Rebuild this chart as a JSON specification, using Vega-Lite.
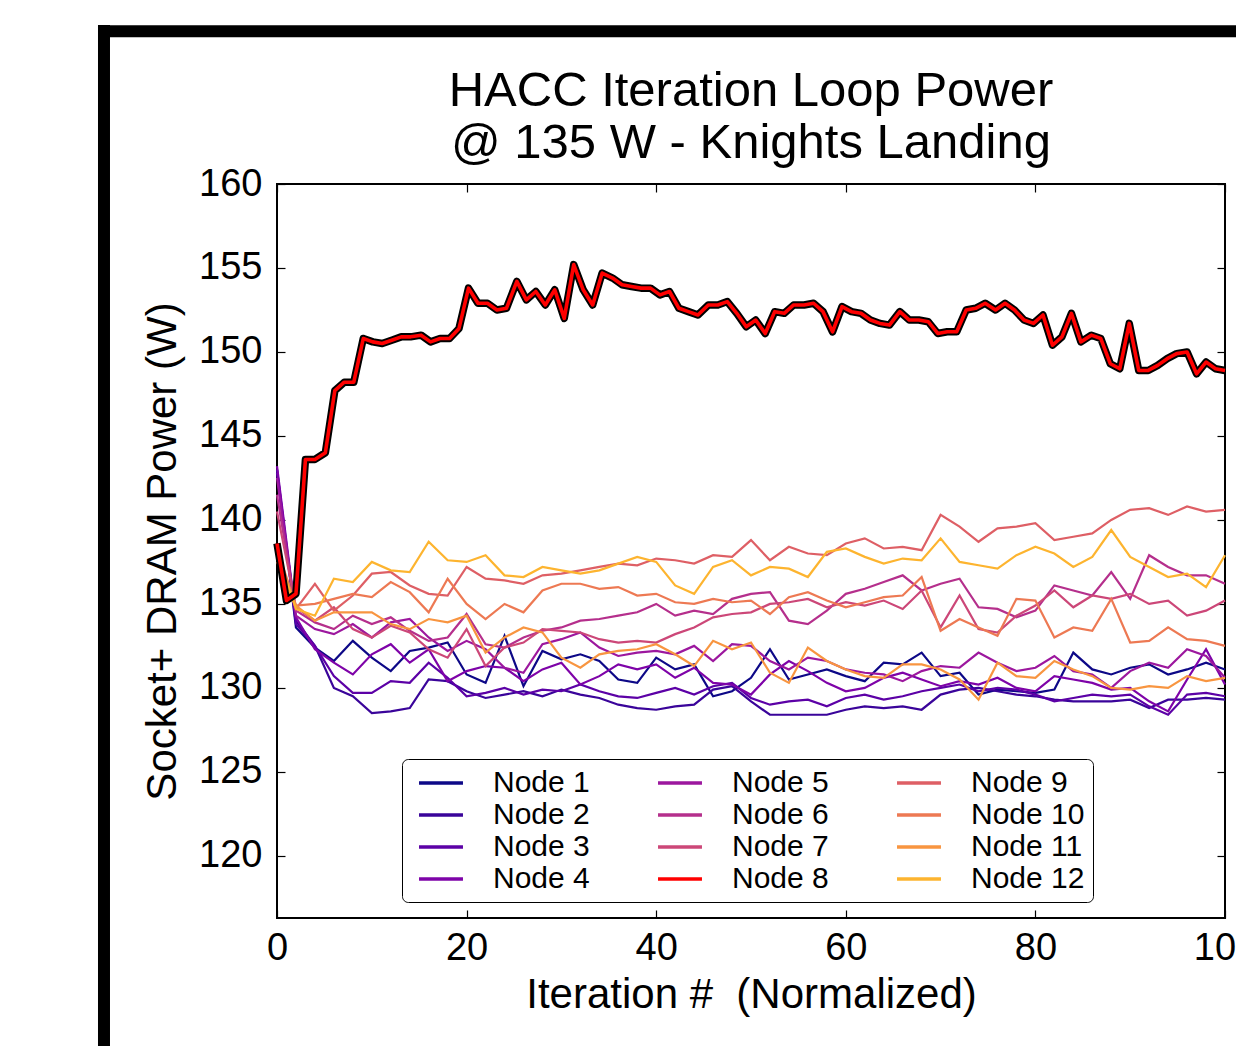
{"$schema":"https://vega.github.io/schema/vega-lite/v6.json","width":948,"height":734,"autosize":{"type":"none"},"padding":{"left":277,"top":184,"right":11,"bottom":128},"background":"white",
"title":{"text":["HACC Iteration Loop Power","@ 135 W - Knights Landing"],"fontSize":49,"font":"Liberation Sans","fontWeight":"normal","color":"black","lineHeight":52,"baseline":"bottom","offset":-198,"anchor":"middle","frame":"group"},
"data":{"values":[
{"x":0,"y":143.0,"k":1},{"x":2,"y":133.6,"k":1},{"x":4,"y":132.4,"k":1},{"x":6,"y":131.6,"k":1},{"x":8,"y":132.8,"k":1},{"x":10,"y":131.8,"k":1},{"x":12,"y":131.0,"k":1},{"x":14,"y":132.2,"k":1},{"x":16,"y":132.4,"k":1},{"x":18,"y":132.7,"k":1},{"x":20,"y":130.8,"k":1},{"x":22,"y":130.3,"k":1},{"x":24,"y":133.1,"k":1},{"x":26,"y":130.1,"k":1},{"x":28,"y":132.2,"k":1},{"x":30,"y":131.7,"k":1},{"x":32,"y":132.0,"k":1},{"x":34,"y":131.6,"k":1},{"x":36,"y":130.5,"k":1},{"x":38,"y":130.3,"k":1},{"x":40,"y":131.8,"k":1},{"x":42,"y":131.1,"k":1},{"x":44,"y":131.4,"k":1},{"x":46,"y":129.5,"k":1},{"x":48,"y":129.8,"k":1},{"x":50,"y":130.6,"k":1},{"x":52,"y":132.3,"k":1},{"x":54,"y":130.5,"k":1},{"x":56,"y":130.8,"k":1},{"x":58,"y":131.1,"k":1},{"x":60,"y":130.7,"k":1},{"x":62,"y":130.4,"k":1},{"x":64,"y":131.5,"k":1},{"x":66,"y":131.4,"k":1},{"x":68,"y":132.1,"k":1},{"x":70,"y":130.7,"k":1},{"x":72,"y":130.9,"k":1},{"x":74,"y":129.6,"k":1},{"x":76,"y":129.9,"k":1},{"x":78,"y":129.8,"k":1},{"x":80,"y":129.7,"k":1},{"x":82,"y":129.9,"k":1},{"x":84,"y":132.1,"k":1},{"x":86,"y":131.1,"k":1},{"x":88,"y":130.8,"k":1},{"x":90,"y":131.2,"k":1},{"x":92,"y":131.4,"k":1},{"x":94,"y":130.8,"k":1},{"x":96,"y":131.1,"k":1},{"x":98,"y":131.5,"k":1},{"x":100,"y":131.1,"k":1},
{"x":0,"y":143.0,"k":2},{"x":2,"y":134.0,"k":2},{"x":4,"y":132.5,"k":2},{"x":6,"y":130.0,"k":2},{"x":8,"y":129.5,"k":2},{"x":10,"y":128.5,"k":2},{"x":12,"y":128.6,"k":2},{"x":14,"y":128.8,"k":2},{"x":16,"y":130.5,"k":2},{"x":18,"y":130.4,"k":2},{"x":20,"y":129.8,"k":2},{"x":22,"y":129.4,"k":2},{"x":24,"y":129.6,"k":2},{"x":26,"y":129.8,"k":2},{"x":28,"y":129.5,"k":2},{"x":30,"y":129.9,"k":2},{"x":32,"y":129.6,"k":2},{"x":34,"y":129.4,"k":2},{"x":36,"y":129.0,"k":2},{"x":38,"y":128.8,"k":2},{"x":40,"y":128.7,"k":2},{"x":42,"y":128.9,"k":2},{"x":44,"y":129.0,"k":2},{"x":46,"y":129.9,"k":2},{"x":48,"y":130.1,"k":2},{"x":50,"y":129.2,"k":2},{"x":52,"y":128.4,"k":2},{"x":54,"y":128.4,"k":2},{"x":56,"y":128.4,"k":2},{"x":58,"y":128.4,"k":2},{"x":60,"y":128.7,"k":2},{"x":62,"y":128.9,"k":2},{"x":64,"y":128.8,"k":2},{"x":66,"y":128.9,"k":2},{"x":68,"y":128.7,"k":2},{"x":70,"y":129.6,"k":2},{"x":72,"y":129.9,"k":2},{"x":74,"y":130.0,"k":2},{"x":76,"y":129.8,"k":2},{"x":78,"y":129.6,"k":2},{"x":80,"y":129.5,"k":2},{"x":82,"y":129.3,"k":2},{"x":84,"y":129.2,"k":2},{"x":86,"y":129.2,"k":2},{"x":88,"y":129.2,"k":2},{"x":90,"y":129.3,"k":2},{"x":92,"y":128.8,"k":2},{"x":94,"y":129.3,"k":2},{"x":96,"y":129.3,"k":2},{"x":98,"y":129.4,"k":2},{"x":100,"y":129.3,"k":2},
{"x":0,"y":142.8,"k":3},{"x":2,"y":133.8,"k":3},{"x":4,"y":132.5,"k":3},{"x":6,"y":130.7,"k":3},{"x":8,"y":129.7,"k":3},{"x":10,"y":129.7,"k":3},{"x":12,"y":130.4,"k":3},{"x":14,"y":130.3,"k":3},{"x":16,"y":131.5,"k":3},{"x":18,"y":130.6,"k":3},{"x":20,"y":129.5,"k":3},{"x":22,"y":129.7,"k":3},{"x":24,"y":130.0,"k":3},{"x":26,"y":129.6,"k":3},{"x":28,"y":129.9,"k":3},{"x":30,"y":129.8,"k":3},{"x":32,"y":130.2,"k":3},{"x":34,"y":129.8,"k":3},{"x":36,"y":129.5,"k":3},{"x":38,"y":129.4,"k":3},{"x":40,"y":129.7,"k":3},{"x":42,"y":130.0,"k":3},{"x":44,"y":129.6,"k":3},{"x":46,"y":130.1,"k":3},{"x":48,"y":130.3,"k":3},{"x":50,"y":129.4,"k":3},{"x":52,"y":129.0,"k":3},{"x":54,"y":129.2,"k":3},{"x":56,"y":129.3,"k":3},{"x":58,"y":128.9,"k":3},{"x":60,"y":129.4,"k":3},{"x":62,"y":129.6,"k":3},{"x":64,"y":129.3,"k":3},{"x":66,"y":129.5,"k":3},{"x":68,"y":129.8,"k":3},{"x":70,"y":130.0,"k":3},{"x":72,"y":130.2,"k":3},{"x":74,"y":129.8,"k":3},{"x":76,"y":130.0,"k":3},{"x":78,"y":129.9,"k":3},{"x":80,"y":129.6,"k":3},{"x":82,"y":129.2,"k":3},{"x":84,"y":129.4,"k":3},{"x":86,"y":129.6,"k":3},{"x":88,"y":129.5,"k":3},{"x":90,"y":129.6,"k":3},{"x":92,"y":128.9,"k":3},{"x":94,"y":128.4,"k":3},{"x":96,"y":129.6,"k":3},{"x":98,"y":129.7,"k":3},{"x":100,"y":129.5,"k":3},
{"x":0,"y":143.2,"k":4},{"x":2,"y":134.2,"k":4},{"x":4,"y":132.3,"k":4},{"x":6,"y":131.5,"k":4},{"x":8,"y":130.8,"k":4},{"x":10,"y":132.0,"k":4},{"x":12,"y":132.6,"k":4},{"x":14,"y":131.5,"k":4},{"x":16,"y":132.3,"k":4},{"x":18,"y":130.4,"k":4},{"x":20,"y":131.0,"k":4},{"x":22,"y":131.3,"k":4},{"x":24,"y":131.2,"k":4},{"x":26,"y":130.4,"k":4},{"x":28,"y":131.1,"k":4},{"x":30,"y":131.5,"k":4},{"x":32,"y":130.2,"k":4},{"x":34,"y":130.7,"k":4},{"x":36,"y":131.4,"k":4},{"x":38,"y":131.1,"k":4},{"x":40,"y":131.4,"k":4},{"x":42,"y":130.6,"k":4},{"x":44,"y":131.2,"k":4},{"x":46,"y":130.3,"k":4},{"x":48,"y":130.2,"k":4},{"x":50,"y":129.6,"k":4},{"x":52,"y":130.8,"k":4},{"x":54,"y":131.6,"k":4},{"x":56,"y":131.0,"k":4},{"x":58,"y":130.3,"k":4},{"x":60,"y":129.8,"k":4},{"x":62,"y":130.0,"k":4},{"x":64,"y":130.6,"k":4},{"x":66,"y":130.9,"k":4},{"x":68,"y":130.5,"k":4},{"x":70,"y":130.1,"k":4},{"x":72,"y":130.4,"k":4},{"x":74,"y":130.2,"k":4},{"x":76,"y":130.6,"k":4},{"x":78,"y":130.0,"k":4},{"x":80,"y":129.8,"k":4},{"x":82,"y":130.7,"k":4},{"x":84,"y":130.5,"k":4},{"x":86,"y":130.3,"k":4},{"x":88,"y":129.9,"k":4},{"x":90,"y":130.0,"k":4},{"x":92,"y":129.2,"k":4},{"x":94,"y":128.6,"k":4},{"x":96,"y":130.5,"k":4},{"x":98,"y":132.3,"k":4},{"x":100,"y":130.2,"k":4},
{"x":0,"y":142.5,"k":5},{"x":2,"y":134.3,"k":5},{"x":4,"y":133.5,"k":5},{"x":6,"y":133.2,"k":5},{"x":8,"y":133.8,"k":5},{"x":10,"y":133.0,"k":5},{"x":12,"y":133.9,"k":5},{"x":14,"y":134.1,"k":5},{"x":16,"y":133.0,"k":5},{"x":18,"y":132.2,"k":5},{"x":20,"y":132.8,"k":5},{"x":22,"y":132.3,"k":5},{"x":24,"y":131.2,"k":5},{"x":26,"y":130.9,"k":5},{"x":28,"y":132.6,"k":5},{"x":30,"y":132.9,"k":5},{"x":32,"y":133.3,"k":5},{"x":34,"y":132.4,"k":5},{"x":36,"y":131.9,"k":5},{"x":38,"y":132.1,"k":5},{"x":40,"y":132.2,"k":5},{"x":42,"y":132.0,"k":5},{"x":44,"y":132.5,"k":5},{"x":46,"y":131.6,"k":5},{"x":48,"y":132.6,"k":5},{"x":50,"y":132.5,"k":5},{"x":52,"y":131.6,"k":5},{"x":54,"y":131.1,"k":5},{"x":56,"y":131.8,"k":5},{"x":58,"y":131.6,"k":5},{"x":60,"y":131.1,"k":5},{"x":62,"y":130.9,"k":5},{"x":64,"y":130.8,"k":5},{"x":66,"y":130.4,"k":5},{"x":68,"y":131.0,"k":5},{"x":70,"y":131.3,"k":5},{"x":72,"y":131.2,"k":5},{"x":74,"y":132.1,"k":5},{"x":76,"y":131.5,"k":5},{"x":78,"y":131.0,"k":5},{"x":80,"y":131.2,"k":5},{"x":82,"y":131.9,"k":5},{"x":84,"y":131.0,"k":5},{"x":86,"y":130.8,"k":5},{"x":88,"y":130.0,"k":5},{"x":90,"y":131.0,"k":5},{"x":92,"y":131.5,"k":5},{"x":94,"y":131.2,"k":5},{"x":96,"y":132.3,"k":5},{"x":98,"y":131.9,"k":5},{"x":100,"y":130.6,"k":5},
{"x":0,"y":141.5,"k":6},{"x":2,"y":134.6,"k":6},{"x":4,"y":133.9,"k":6},{"x":6,"y":133.5,"k":6},{"x":8,"y":134.3,"k":6},{"x":10,"y":133.8,"k":6},{"x":12,"y":134.2,"k":6},{"x":14,"y":133.4,"k":6},{"x":16,"y":132.8,"k":6},{"x":18,"y":133.0,"k":6},{"x":20,"y":134.4,"k":6},{"x":22,"y":132.6,"k":6},{"x":24,"y":132.4,"k":6},{"x":26,"y":133.0,"k":6},{"x":28,"y":133.4,"k":6},{"x":30,"y":133.6,"k":6},{"x":32,"y":134.0,"k":6},{"x":34,"y":134.1,"k":6},{"x":36,"y":134.3,"k":6},{"x":38,"y":134.5,"k":6},{"x":40,"y":135.0,"k":6},{"x":42,"y":134.3,"k":6},{"x":44,"y":134.6,"k":6},{"x":46,"y":134.4,"k":6},{"x":48,"y":135.3,"k":6},{"x":50,"y":135.6,"k":6},{"x":52,"y":135.7,"k":6},{"x":54,"y":134.0,"k":6},{"x":56,"y":133.8,"k":6},{"x":58,"y":134.6,"k":6},{"x":60,"y":135.6,"k":6},{"x":62,"y":135.9,"k":6},{"x":64,"y":136.3,"k":6},{"x":66,"y":136.7,"k":6},{"x":68,"y":135.8,"k":6},{"x":70,"y":136.2,"k":6},{"x":72,"y":136.5,"k":6},{"x":74,"y":134.8,"k":6},{"x":76,"y":134.7,"k":6},{"x":78,"y":134.2,"k":6},{"x":80,"y":134.6,"k":6},{"x":82,"y":136.1,"k":6},{"x":84,"y":135.8,"k":6},{"x":86,"y":135.5,"k":6},{"x":88,"y":136.9,"k":6},{"x":90,"y":135.3,"k":6},{"x":92,"y":137.9,"k":6},{"x":94,"y":137.2,"k":6},{"x":96,"y":136.7,"k":6},{"x":98,"y":136.7,"k":6},{"x":100,"y":136.2,"k":6},
{"x":0,"y":140.5,"k":7},{"x":2,"y":134.8,"k":7},{"x":4,"y":134.0,"k":7},{"x":6,"y":134.8,"k":7},{"x":8,"y":133.5,"k":7},{"x":10,"y":133.0,"k":7},{"x":12,"y":133.7,"k":7},{"x":14,"y":133.3,"k":7},{"x":16,"y":132.3,"k":7},{"x":18,"y":131.8,"k":7},{"x":20,"y":133.5,"k":7},{"x":22,"y":131.3,"k":7},{"x":24,"y":132.4,"k":7},{"x":26,"y":132.7,"k":7},{"x":28,"y":133.5,"k":7},{"x":30,"y":133.4,"k":7},{"x":32,"y":133.3,"k":7},{"x":34,"y":132.9,"k":7},{"x":36,"y":132.7,"k":7},{"x":38,"y":132.8,"k":7},{"x":40,"y":132.7,"k":7},{"x":42,"y":133.2,"k":7},{"x":44,"y":133.6,"k":7},{"x":46,"y":134.2,"k":7},{"x":48,"y":134.4,"k":7},{"x":50,"y":134.5,"k":7},{"x":52,"y":135.0,"k":7},{"x":54,"y":135.1,"k":7},{"x":56,"y":135.3,"k":7},{"x":58,"y":134.8,"k":7},{"x":60,"y":135.1,"k":7},{"x":62,"y":134.9,"k":7},{"x":64,"y":135.2,"k":7},{"x":66,"y":134.7,"k":7},{"x":68,"y":135.8,"k":7},{"x":70,"y":133.6,"k":7},{"x":72,"y":135.5,"k":7},{"x":74,"y":133.5,"k":7},{"x":76,"y":133.3,"k":7},{"x":78,"y":134.3,"k":7},{"x":80,"y":134.9,"k":7},{"x":82,"y":135.8,"k":7},{"x":84,"y":134.8,"k":7},{"x":86,"y":135.5,"k":7},{"x":88,"y":135.3,"k":7},{"x":90,"y":135.6,"k":7},{"x":92,"y":135.0,"k":7},{"x":94,"y":135.2,"k":7},{"x":96,"y":134.3,"k":7},{"x":98,"y":134.6,"k":7},{"x":100,"y":135.2,"k":7},
{"x":0,"y":138.6,"k":8},{"x":1,"y":135.2,"k":8},{"x":2,"y":135.6,"k":8},{"x":3,"y":143.6,"k":8},{"x":4,"y":143.6,"k":8},{"x":5.1,"y":144.0,"k":8},{"x":6.1,"y":147.7,"k":8},{"x":7.1,"y":148.2,"k":8},{"x":8.1,"y":148.2,"k":8},{"x":9.1,"y":150.8,"k":8},{"x":10.1,"y":150.6,"k":8},{"x":11.1,"y":150.5,"k":8},{"x":12.1,"y":150.7,"k":8},{"x":13.1,"y":150.9,"k":8},{"x":14.1,"y":150.9,"k":8},{"x":15.2,"y":151.0,"k":8},{"x":16.2,"y":150.6,"k":8},{"x":17.2,"y":150.8,"k":8},{"x":18.2,"y":150.8,"k":8},{"x":19.2,"y":151.4,"k":8},{"x":20.2,"y":153.8,"k":8},{"x":21.2,"y":152.9,"k":8},{"x":22.2,"y":152.9,"k":8},{"x":23.2,"y":152.5,"k":8},{"x":24.2,"y":152.6,"k":8},{"x":25.3,"y":154.2,"k":8},{"x":26.3,"y":153.1,"k":8},{"x":27.3,"y":153.6,"k":8},{"x":28.3,"y":152.8,"k":8},{"x":29.3,"y":153.7,"k":8},{"x":30.3,"y":152.0,"k":8},{"x":31.3,"y":155.2,"k":8},{"x":32.3,"y":153.7,"k":8},{"x":33.3,"y":152.8,"k":8},{"x":34.3,"y":154.7,"k":8},{"x":35.4,"y":154.4,"k":8},{"x":36.4,"y":154.0,"k":8},{"x":37.4,"y":153.9,"k":8},{"x":38.4,"y":153.8,"k":8},{"x":39.4,"y":153.8,"k":8},{"x":40.4,"y":153.4,"k":8},{"x":41.4,"y":153.6,"k":8},{"x":42.4,"y":152.6,"k":8},{"x":43.4,"y":152.4,"k":8},{"x":44.4,"y":152.2,"k":8},{"x":45.5,"y":152.8,"k":8},{"x":46.5,"y":152.8,"k":8},{"x":47.5,"y":153.0,"k":8},{"x":48.5,"y":152.3,"k":8},{"x":49.5,"y":151.5,"k":8},{"x":50.5,"y":151.9,"k":8},{"x":51.5,"y":151.1,"k":8},{"x":52.5,"y":152.4,"k":8},{"x":53.5,"y":152.3,"k":8},{"x":54.5,"y":152.8,"k":8},{"x":55.6,"y":152.8,"k":8},{"x":56.6,"y":152.9,"k":8},{"x":57.6,"y":152.4,"k":8},{"x":58.6,"y":151.2,"k":8},{"x":59.6,"y":152.7,"k":8},{"x":60.6,"y":152.4,"k":8},{"x":61.6,"y":152.3,"k":8},{"x":62.6,"y":151.9,"k":8},{"x":63.6,"y":151.7,"k":8},{"x":64.6,"y":151.6,"k":8},{"x":65.7,"y":152.4,"k":8},{"x":66.7,"y":151.9,"k":8},{"x":67.7,"y":151.9,"k":8},{"x":68.7,"y":151.8,"k":8},{"x":69.7,"y":151.1,"k":8},{"x":70.7,"y":151.2,"k":8},{"x":71.7,"y":151.2,"k":8},{"x":72.7,"y":152.5,"k":8},{"x":73.7,"y":152.6,"k":8},{"x":74.7,"y":152.9,"k":8},{"x":75.8,"y":152.5,"k":8},{"x":76.8,"y":152.9,"k":8},{"x":77.8,"y":152.5,"k":8},{"x":78.8,"y":151.9,"k":8},{"x":79.8,"y":151.7,"k":8},{"x":80.8,"y":152.2,"k":8},{"x":81.8,"y":150.4,"k":8},{"x":82.8,"y":150.9,"k":8},{"x":83.8,"y":152.3,"k":8},{"x":84.8,"y":150.6,"k":8},{"x":85.9,"y":151.0,"k":8},{"x":86.9,"y":150.8,"k":8},{"x":87.9,"y":149.3,"k":8},{"x":88.9,"y":149.0,"k":8},{"x":89.9,"y":151.7,"k":8},{"x":90.9,"y":148.9,"k":8},{"x":91.9,"y":148.9,"k":8},{"x":92.9,"y":149.2,"k":8},{"x":93.9,"y":149.6,"k":8},{"x":94.9,"y":149.9,"k":8},{"x":96,"y":150.0,"k":8},{"x":97,"y":148.7,"k":8},{"x":98,"y":149.4,"k":8},{"x":99,"y":149.0,"k":8},{"x":100,"y":148.9,"k":8},
{"x":0,"y":138.0,"k":9},{"x":2,"y":134.7,"k":9},{"x":4,"y":136.2,"k":9},{"x":6,"y":134.6,"k":9},{"x":8,"y":135.5,"k":9},{"x":10,"y":136.8,"k":9},{"x":12,"y":136.9,"k":9},{"x":14,"y":136.1,"k":9},{"x":16,"y":135.6,"k":9},{"x":18,"y":135.5,"k":9},{"x":20,"y":137.2,"k":9},{"x":22,"y":136.5,"k":9},{"x":24,"y":136.4,"k":9},{"x":26,"y":136.2,"k":9},{"x":28,"y":136.7,"k":9},{"x":30,"y":136.8,"k":9},{"x":32,"y":137.0,"k":9},{"x":34,"y":137.2,"k":9},{"x":36,"y":137.4,"k":9},{"x":38,"y":137.3,"k":9},{"x":40,"y":137.7,"k":9},{"x":42,"y":137.6,"k":9},{"x":44,"y":137.4,"k":9},{"x":46,"y":137.9,"k":9},{"x":48,"y":137.8,"k":9},{"x":50,"y":138.8,"k":9},{"x":52,"y":137.6,"k":9},{"x":54,"y":138.4,"k":9},{"x":56,"y":138.0,"k":9},{"x":58,"y":137.9,"k":9},{"x":60,"y":138.6,"k":9},{"x":62,"y":138.9,"k":9},{"x":64,"y":138.3,"k":9},{"x":66,"y":138.4,"k":9},{"x":68,"y":138.2,"k":9},{"x":70,"y":140.3,"k":9},{"x":72,"y":139.6,"k":9},{"x":74,"y":138.7,"k":9},{"x":76,"y":139.5,"k":9},{"x":78,"y":139.6,"k":9},{"x":80,"y":139.8,"k":9},{"x":82,"y":138.8,"k":9},{"x":84,"y":139.0,"k":9},{"x":86,"y":139.2,"k":9},{"x":88,"y":140.0,"k":9},{"x":90,"y":140.6,"k":9},{"x":92,"y":140.7,"k":9},{"x":94,"y":140.3,"k":9},{"x":96,"y":140.8,"k":9},{"x":98,"y":140.5,"k":9},{"x":100,"y":140.6,"k":9},
{"x":0,"y":138.3,"k":10},{"x":2,"y":134.9,"k":10},{"x":4,"y":135.0,"k":10},{"x":6,"y":135.3,"k":10},{"x":8,"y":135.6,"k":10},{"x":10,"y":135.4,"k":10},{"x":12,"y":136.3,"k":10},{"x":14,"y":135.7,"k":10},{"x":16,"y":134.5,"k":10},{"x":18,"y":136.5,"k":10},{"x":20,"y":135.0,"k":10},{"x":22,"y":134.1,"k":10},{"x":24,"y":135.0,"k":10},{"x":26,"y":134.5,"k":10},{"x":28,"y":135.8,"k":10},{"x":30,"y":136.2,"k":10},{"x":32,"y":136.2,"k":10},{"x":34,"y":135.9,"k":10},{"x":36,"y":136.0,"k":10},{"x":38,"y":135.5,"k":10},{"x":40,"y":135.6,"k":10},{"x":42,"y":135.1,"k":10},{"x":44,"y":135.0,"k":10},{"x":46,"y":135.3,"k":10},{"x":48,"y":135.1,"k":10},{"x":50,"y":135.2,"k":10},{"x":52,"y":134.4,"k":10},{"x":54,"y":135.4,"k":10},{"x":56,"y":135.7,"k":10},{"x":58,"y":135.2,"k":10},{"x":60,"y":134.8,"k":10},{"x":62,"y":135.1,"k":10},{"x":64,"y":135.4,"k":10},{"x":66,"y":135.5,"k":10},{"x":68,"y":136.6,"k":10},{"x":70,"y":133.4,"k":10},{"x":72,"y":134.1,"k":10},{"x":74,"y":133.6,"k":10},{"x":76,"y":133.1,"k":10},{"x":78,"y":135.3,"k":10},{"x":80,"y":135.2,"k":10},{"x":82,"y":133.0,"k":10},{"x":84,"y":133.6,"k":10},{"x":86,"y":133.4,"k":10},{"x":88,"y":135.3,"k":10},{"x":90,"y":132.7,"k":10},{"x":92,"y":132.8,"k":10},{"x":94,"y":133.6,"k":10},{"x":96,"y":132.9,"k":10},{"x":98,"y":132.8,"k":10},{"x":100,"y":132.5,"k":10},
{"x":0,"y":137.5,"k":11},{"x":2,"y":134.9,"k":11},{"x":4,"y":134.0,"k":11},{"x":6,"y":134.5,"k":11},{"x":8,"y":134.5,"k":11},{"x":10,"y":134.5,"k":11},{"x":12,"y":133.8,"k":11},{"x":14,"y":133.5,"k":11},{"x":16,"y":134.1,"k":11},{"x":18,"y":133.9,"k":11},{"x":20,"y":134.3,"k":11},{"x":22,"y":132.1,"k":11},{"x":24,"y":133.0,"k":11},{"x":26,"y":133.6,"k":11},{"x":28,"y":133.3,"k":11},{"x":30,"y":131.8,"k":11},{"x":32,"y":131.2,"k":11},{"x":34,"y":132.0,"k":11},{"x":36,"y":132.2,"k":11},{"x":38,"y":132.3,"k":11},{"x":40,"y":132.6,"k":11},{"x":42,"y":132.0,"k":11},{"x":44,"y":131.3,"k":11},{"x":46,"y":132.8,"k":11},{"x":48,"y":132.3,"k":11},{"x":50,"y":132.7,"k":11},{"x":52,"y":130.9,"k":11},{"x":54,"y":130.3,"k":11},{"x":56,"y":132.4,"k":11},{"x":58,"y":131.6,"k":11},{"x":60,"y":131.1,"k":11},{"x":62,"y":130.7,"k":11},{"x":64,"y":130.6,"k":11},{"x":66,"y":131.4,"k":11},{"x":68,"y":131.4,"k":11},{"x":70,"y":131.1,"k":11},{"x":72,"y":130.5,"k":11},{"x":74,"y":129.3,"k":11},{"x":76,"y":131.5,"k":11},{"x":78,"y":130.7,"k":11},{"x":80,"y":130.6,"k":11},{"x":82,"y":131.6,"k":11},{"x":84,"y":131.1,"k":11},{"x":86,"y":130.7,"k":11},{"x":88,"y":130.0,"k":11},{"x":90,"y":129.9,"k":11},{"x":92,"y":130.1,"k":11},{"x":94,"y":130.0,"k":11},{"x":96,"y":130.7,"k":11},{"x":98,"y":130.4,"k":11},{"x":100,"y":130.6,"k":11},
{"x":0,"y":138.0,"k":12},{"x":2,"y":134.7,"k":12},{"x":4,"y":134.3,"k":12},{"x":6,"y":136.5,"k":12},{"x":8,"y":136.3,"k":12},{"x":10,"y":137.5,"k":12},{"x":12,"y":137.0,"k":12},{"x":14,"y":136.9,"k":12},{"x":16,"y":138.7,"k":12},{"x":18,"y":137.6,"k":12},{"x":20,"y":137.5,"k":12},{"x":22,"y":137.9,"k":12},{"x":24,"y":136.7,"k":12},{"x":26,"y":136.6,"k":12},{"x":28,"y":137.2,"k":12},{"x":30,"y":137.0,"k":12},{"x":32,"y":136.8,"k":12},{"x":34,"y":137.0,"k":12},{"x":36,"y":137.4,"k":12},{"x":38,"y":137.8,"k":12},{"x":40,"y":137.5,"k":12},{"x":42,"y":136.1,"k":12},{"x":44,"y":135.6,"k":12},{"x":46,"y":137.2,"k":12},{"x":48,"y":137.6,"k":12},{"x":50,"y":136.7,"k":12},{"x":52,"y":137.2,"k":12},{"x":54,"y":137.1,"k":12},{"x":56,"y":136.6,"k":12},{"x":58,"y":138.1,"k":12},{"x":60,"y":138.3,"k":12},{"x":62,"y":137.8,"k":12},{"x":64,"y":137.4,"k":12},{"x":66,"y":137.7,"k":12},{"x":68,"y":137.6,"k":12},{"x":70,"y":138.9,"k":12},{"x":72,"y":137.5,"k":12},{"x":74,"y":137.3,"k":12},{"x":76,"y":137.1,"k":12},{"x":78,"y":137.9,"k":12},{"x":80,"y":138.4,"k":12},{"x":82,"y":138.0,"k":12},{"x":84,"y":137.2,"k":12},{"x":86,"y":137.8,"k":12},{"x":88,"y":139.4,"k":12},{"x":90,"y":137.8,"k":12},{"x":92,"y":137.2,"k":12},{"x":94,"y":136.6,"k":12},{"x":96,"y":136.8,"k":12},{"x":98,"y":136.0,"k":12},{"x":100,"y":137.9,"k":12}
]},
"layer":[
{"transform":[{"filter":"datum.k != 8"}],"mark":{"type":"line","strokeWidth":2.2},
"encoding":{
"x":{"field":"x","type":"quantitative","scale":{"domain":[0,100],"nice":false,"zero":false},"axis":{"orient":"bottom","values":[0,20,40,60,80,100],"title":"Iteration # \u00a0(Normalized)","labelPadding":19,"titlePadding":7}},
"y":{"field":"y","type":"quantitative","scale":{"domain":[116.3,160],"nice":false,"zero":false},"axis":{"orient":"left","values":[120,125,130,135,140,145,150,155,160],"title":"Socket+ DRAM Power (W)","labelPadding":23,"titlePadding":14}},
"color":{"field":"k","type":"nominal","scale":{"domain":[1,2,3,4,5,6,7,8,9,10,11,12],"range":["#0d0887","#3a049a","#5c01a6","#7e03a8","#9c179e","#b52f8c","#cc4778","#ff0000","#de5f65","#ed7953","#f89540","#fdb42f"]},
"legend":{"orient":"none","legendX":125,"legendY":575,"columns":3,"title":null,"labelExpr":"'Node ' + datum.label","labelFontSize":30,"labelFont":"Liberation Sans","labelColor":"black","symbolSize":784,"symbolType":"M-1.57,0H1.57","symbolStrokeWidth":3.5,"symbolOffset":15,"labelOffset":36,"columnPadding":59,"rowPadding":1,"padding":8,"strokeColor":"black","fillColor":"white","cornerRadius":6,"labelLimit":400}}}},
{"transform":[{"filter":"datum.k == 8"}],"mark":{"type":"line","strokeWidth":7.5,"color":"black","strokeJoin":"round"},
"encoding":{
"x":{"field":"x","type":"quantitative","scale":{"domain":[0,100],"nice":false,"zero":false},"axis":{"orient":"top","values":[0,20,40,60,80,100],"labels":false,"title":null}},
"y":{"field":"y","type":"quantitative","scale":{"domain":[116.3,160],"nice":false,"zero":false},"axis":{"orient":"right","values":[120,125,130,135,140,145,150,155,160],"labels":false,"title":null}}}},
{"transform":[{"filter":"datum.k == 8"}],"mark":{"type":"line","strokeWidth":3.6,"color":"#ff0000","strokeJoin":"round"},
"encoding":{
"x":{"field":"x","type":"quantitative","scale":{"domain":[0,100],"nice":false,"zero":false},"axis":null},
"y":{"field":"y","type":"quantitative","scale":{"domain":[116.3,160],"nice":false,"zero":false},"axis":null}}},
{"data":{"values":[{}]},"mark":{"type":"rule","color":"black","strokeWidth":12,"strokeCap":"butt"},
"encoding":{
"x":{"datum":-18.25,"type":"quantitative","scale":{"domain":[0,100],"nice":false,"zero":false},"axis":null},
"y":{"datum":169.46,"type":"quantitative","scale":{"domain":[116.3,160],"nice":false,"zero":false},"axis":null},
"y2":{"datum":100}}},
{"data":{"values":[{}]},"mark":{"type":"rule","color":"black","strokeWidth":12,"strokeCap":"butt"},
"encoding":{
"x":{"datum":-18.88,"type":"quantitative","scale":{"domain":[0,100],"nice":false,"zero":false},"axis":null},
"x2":{"datum":115},
"y":{"datum":169.1,"type":"quantitative","scale":{"domain":[116.3,160],"nice":false,"zero":false},"axis":null}}}
],
"resolve":{"axis":{"x":"independent","y":"independent"}},
"config":{"font":"Liberation Sans","view":{"stroke":"black","strokeWidth":2},
"axis":{"domain":false,"grid":false,"ticks":true,"tickColor":"black","tickWidth":1.2,"tickSize":-8,"labelFontSize":38,"labelColor":"black","labelFont":"Liberation Sans","titleFont":"Liberation Sans","titleFontSize":42,"titleFontWeight":"normal","titleColor":"black","labelFlush":false,"labelOverlap":false,"labelBound":false}}
}
